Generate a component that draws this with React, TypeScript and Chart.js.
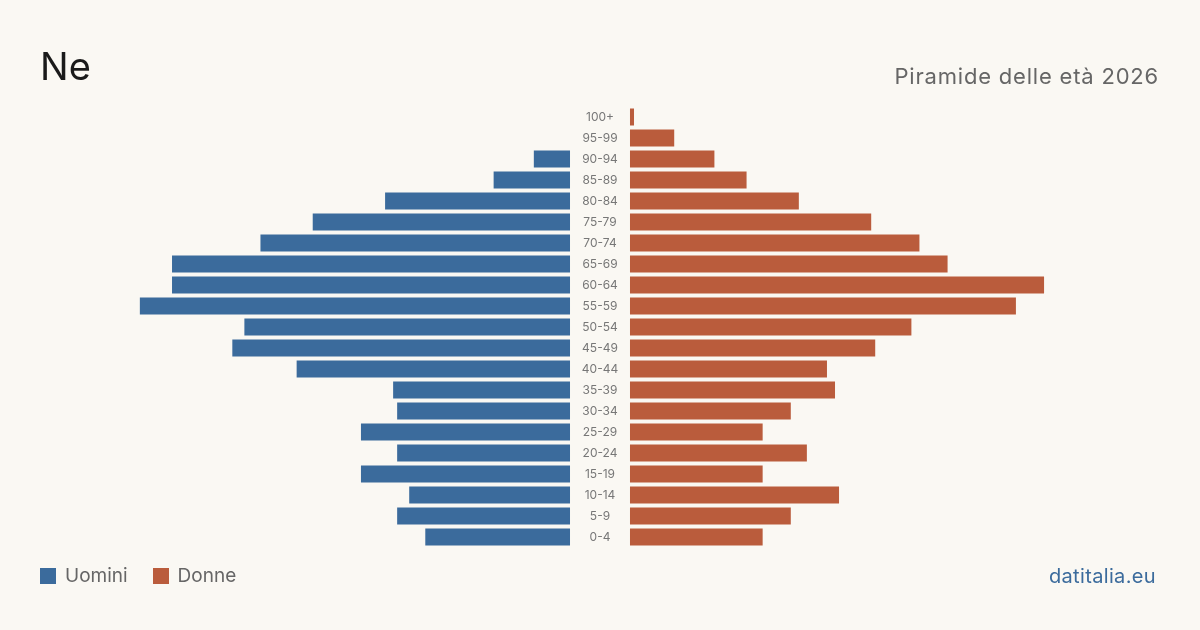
import React, { useEffect, useRef } from "react";
import { Chart, registerables } from "chart.js";

Chart.register(...registerables);

const ageGroups = [
  "0-4", "5-9", "10-14", "15-19", "20-24", "25-29", "30-34", "35-39", "40-44",
  "45-49", "50-54", "55-59", "60-64", "65-69", "70-74", "75-79", "80-84",
  "85-89", "90-94", "95-99", "100+",
];
const men = [36, 43, 40, 52, 43, 52, 43, 44, 68, 84, 81, 107, 99, 99, 77, 64, 46, 19, 9, 0, 0];
const women = [33, 40, 52, 33, 44, 33, 40, 51, 49, 61, 70, 96, 103, 79, 72, 60, 42, 29, 21, 11, 1];

const title = "Ne";
const subtitle = "Piramide delle età 2026";
const legendMen = "Uomini";
const legendWomen = "Donne";
const source = "datitalia.eu";

const BLUE = "#3b6b9c";
const ORANGE = "#ba5c3c";
const BG = "#faf8f3";
const FONT = "Inter, 'Liberation Sans', sans-serif";

export default function App() {
  const ref = useRef<HTMLCanvasElement | null>(null);

  useEffect(() => {
    document.body.style.margin = "0";
    document.body.style.background = BG;
    const canvas = ref.current;
    if (!canvas) return;
    const GAP = 7.46;
    const labels = [...ageGroups].reverse();
    const menData = [...men].reverse().map((v) => [-GAP - v, -GAP]);
    const womenData = [...women].reverse().map((v) => [GAP, GAP + v]);

    const centerLabels = {
      id: "centerLabels",
      afterDatasetsDraw(chart: any) {
        const { ctx, scales } = chart;
        const x = scales.x.getPixelForValue(0);
        ctx.save();
        ctx.font = `12px ${FONT}`;
        ctx.fillStyle = "#777777";
        ctx.textAlign = "center";
        ctx.textBaseline = "middle";
        labels.forEach((l, i) => {
          ctx.fillText(l, x, scales.y.getPixelForValue(i));
        });
        ctx.restore();
      },
    };

    const chart = new Chart(canvas, {
      type: "bar",
      data: {
        labels,
        datasets: [
          { label: legendMen, data: menData as any, backgroundColor: BLUE, borderWidth: 0 },
          { label: legendWomen, data: womenData as any, backgroundColor: ORANGE, borderWidth: 0 },
        ],
      },
      options: {
        indexAxis: "y",
        animation: false,
        responsive: false,
        maintainAspectRatio: false,
        layout: { padding: { left: 40, right: 40, top: 106.5, bottom: 82.5 } },
        datasets: { bar: { grouped: false, barPercentage: 0.81, categoryPercentage: 1 } } as any,
        scales: {
          x: { display: false, min: -139.3, max: 139.3 },
          y: { display: false },
        },
        plugins: { legend: { display: false }, tooltip: { enabled: false }, title: { display: false } },
      },
      plugins: [centerLabels],
    });
    return () => chart.destroy();
  }, []);

  return (
    <div style={{ position: "relative", width: 1200, height: 630, background: BG, overflow: "hidden", fontFamily: FONT }}>
      <canvas ref={ref} width={1200} height={630} style={{ position: "absolute", left: 0, top: 0 }} />
      <div style={{ position: "absolute", left: 40, top: 42, fontSize: 38, color: "#1a1a1a", lineHeight: "48px" }}>{title}</div>
      <div style={{ position: "absolute", right: 41, top: 60, fontSize: 22, color: "#666666", lineHeight: "32px", letterSpacing: "0.8px" }}>{subtitle}</div>
      <div style={{ position: "absolute", left: 40, top: 563, display: "flex", alignItems: "center", fontSize: 19, color: "#666666", lineHeight: "26px" }}>
        <span style={{ display: "inline-block", width: 16, height: 16, background: BLUE, marginRight: 9 }} />
        <span>{legendMen}</span>
        <span style={{ display: "inline-block", width: 16, height: 16, background: ORANGE, marginLeft: 25, marginRight: 9 }} />
        <span>{legendWomen}</span>
      </div>
      <div style={{ position: "absolute", right: 44, top: 563, fontSize: 20, color: BLUE, lineHeight: "26px", letterSpacing: "0.35px" }}>{source}</div>
    </div>
  );
}
